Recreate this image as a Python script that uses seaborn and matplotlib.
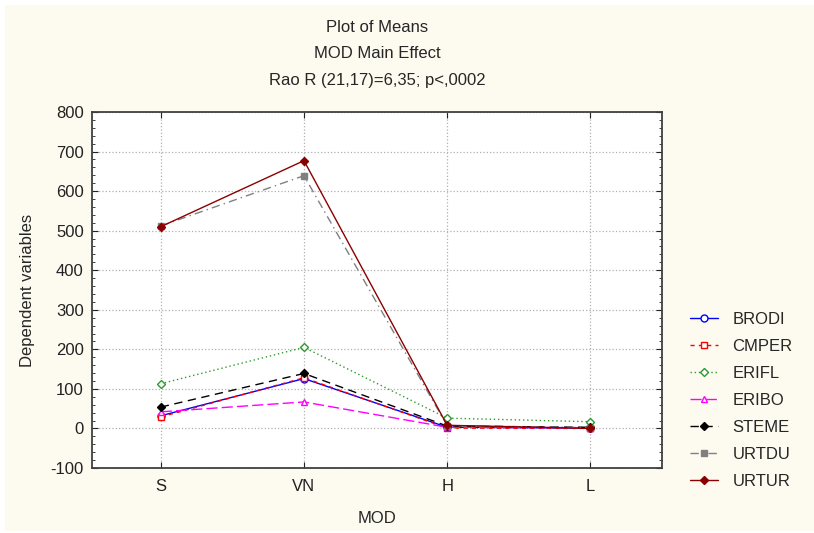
import pandas as pd
import seaborn as sns
import matplotlib.pyplot as plt
from matplotlib.patches import Rectangle
from matplotlib.ticker import MultipleLocator

mods = ['S', 'VN', 'H', 'L']
brodi = [32, 126, 3, 1]
cmper = [29, 128, 1, 0]
erifl = [113, 205, 26, 17]
eribo = [42, 67, 3, 2]
steme = [54, 139, 6, 3]
urtdu = [512, 639, 7, 2]
urtur = [510, 677, 8, 0]

series = {'BRODI': brodi, 'CMPER': cmper, 'ERIFL': erifl, 'ERIBO': eribo,
          'STEME': steme, 'URTDU': urtdu, 'URTUR': urtur}

rows = []
for name, vals in series.items():
    for m, v in zip(mods, vals):
        rows.append({'MOD': m, 'variable': name, 'value': v})
df = pd.DataFrame(rows)

# line / marker styles per variable
styles = {
    'BRODI': dict(color='#0000FF', marker='o', mfc='white', dashes=None),
    'CMPER': dict(color='#FF0000', marker='s', mfc='white', dashes=(3, 3)),
    'ERIFL': dict(color='#2E9A2E', marker='D', mfc='white', dashes=(1, 2)),
    'ERIBO': dict(color='#FF00FF', marker='^', mfc='white', dashes=(8, 3)),
    'STEME': dict(color='#000000', marker='D', mfc='#000000', dashes=(6, 4)),
    'URTDU': dict(color='#808080', marker='s', mfc='#808080', dashes=(6, 3, 1, 3)),
    'URTUR': dict(color='#8B0000', marker='D', mfc='#8B0000', dashes=None),
}

sns.set_style('white')
plt.rcParams['font.family'] = ['Liberation Sans', 'DejaVu Sans']
plt.rcParams['axes.unicode_minus'] = False
FS = 12

fig = plt.figure(figsize=(8.14, 5.33), dpi=100)
fig.patch.set_facecolor('white')
fig.patches.append(Rectangle((5 / 814, 2 / 533), 809 / 814, 526 / 533,
                             transform=fig.transFigure, facecolor='#FDFAF0',
                             edgecolor='none', zorder=-10))

ax = fig.add_axes([92 / 814, 1 - 468 / 533, 570 / 814, 356 / 533])
ax.set_facecolor('white')

for name in series:
    st = styles[name]
    sub = df[df['variable'] == name]
    ms = 5 if st['marker'] in ('o', 's', '^') else 4.5
    sns.lineplot(data=sub, x='MOD', y='value', ax=ax, color=st['color'],
                 marker=st['marker'], markersize=ms, markerfacecolor=st['mfc'],
                 markeredgecolor=st['color'], markeredgewidth=1.0,
                 linewidth=1.0, label=name, sort=False)
    l = ax.lines[-1]
    if st['dashes'] is not None:
        l.set_dashes(st['dashes'])

ax.set_xlim(-0.48, 3.5)
ax.set_ylim(-100, 800)
ax.yaxis.set_major_locator(MultipleLocator(100))
ax.yaxis.set_minor_locator(MultipleLocator(20))
ax.grid(True, which='major', color='#B0B0B0', linestyle=':', linewidth=0.9)
ax.tick_params(axis='both', which='both', direction='in', left=True, right=True,
               bottom=True, top=True, labelsize=FS, colors='#222222')
ax.tick_params(axis='both', which='major', length=4)
ax.tick_params(axis='both', which='minor', length=2.5)
ax.tick_params(axis='x', which='major', pad=8)
ax.tick_params(axis='y', which='major', pad=6)
for sp in ax.spines.values():
    sp.set_color('#404040')
    sp.set_linewidth(1.3)

ax.set_xlabel('MOD', fontsize=FS, labelpad=12)
ax.set_ylabel('Dependent variables', fontsize=FS, labelpad=11)

fig.text(377 / 814, 1 - 28 / 533, 'Plot of Means', ha='center', va='center', fontsize=FS)
fig.text(377 / 814, 1 - 54 / 533, 'MOD Main Effect', ha='center', va='center', fontsize=FS)
fig.text(377 / 814, 1 - 80 / 533, 'Rao R (21,17)=6,35; p<,0002', ha='center', va='center',
         fontsize=FS)

leg = ax.legend(loc='upper left', bbox_to_anchor=(675 / 814, 1 - 297 / 533),
                bbox_transform=fig.transFigure, frameon=False, fontsize=FS,
                handlelength=1.7, labelspacing=0.72, handletextpad=0.85)

fig.savefig('out.png', dpi=100, facecolor=fig.get_facecolor())
